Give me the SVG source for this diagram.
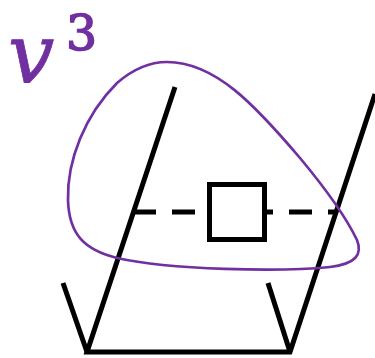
<svg xmlns="http://www.w3.org/2000/svg" width="375" height="358" viewBox="0 0 375 358">
<style>
.ln{stroke:#000;stroke-width:5;fill:none;stroke-linecap:butt;stroke-linejoin:miter}
.lbl{fill:#7030a0;font-family:"DejaVu Serif",serif}
</style>
<rect width="375" height="358" fill="#fff"/>
<g id="connectors">
<polyline class="ln" points="175,87 87,352 290,352 375,94"/>
<line class="ln" x1="63" y1="283" x2="87" y2="352"/>
<line class="ln" x1="268" y1="283" x2="290" y2="352"/>
<line class="ln" x1="133" y1="212" x2="337" y2="212" stroke-dasharray="23 16"/>
</g>
<g id="box">
<rect class="ln" x="209.5" y="184.5" width="55" height="55" style="fill:#fff"/>
</g>
<g id="region">
<path d="M167,62 C215,62 255,105 300,158 C325,188 345,215 357,240 C363,255 355,264 330,267 C280,272 170,270 117,258 C85,250 69,235 68,200 C67,160 85,115 117,83 C132,70 150,62 167,62 Z" fill="none" stroke="#7030a0" stroke-width="2.7"/>
</g>
<g id="label">
<text class="lbl" x="8" y="83" font-size="82" font-style="italic" stroke="#7030a0" stroke-width="0.8">v</text>
<text class="lbl" x="66" y="50" font-size="49" stroke="#7030a0" stroke-width="1.6">3</text>
</g>
</svg>
